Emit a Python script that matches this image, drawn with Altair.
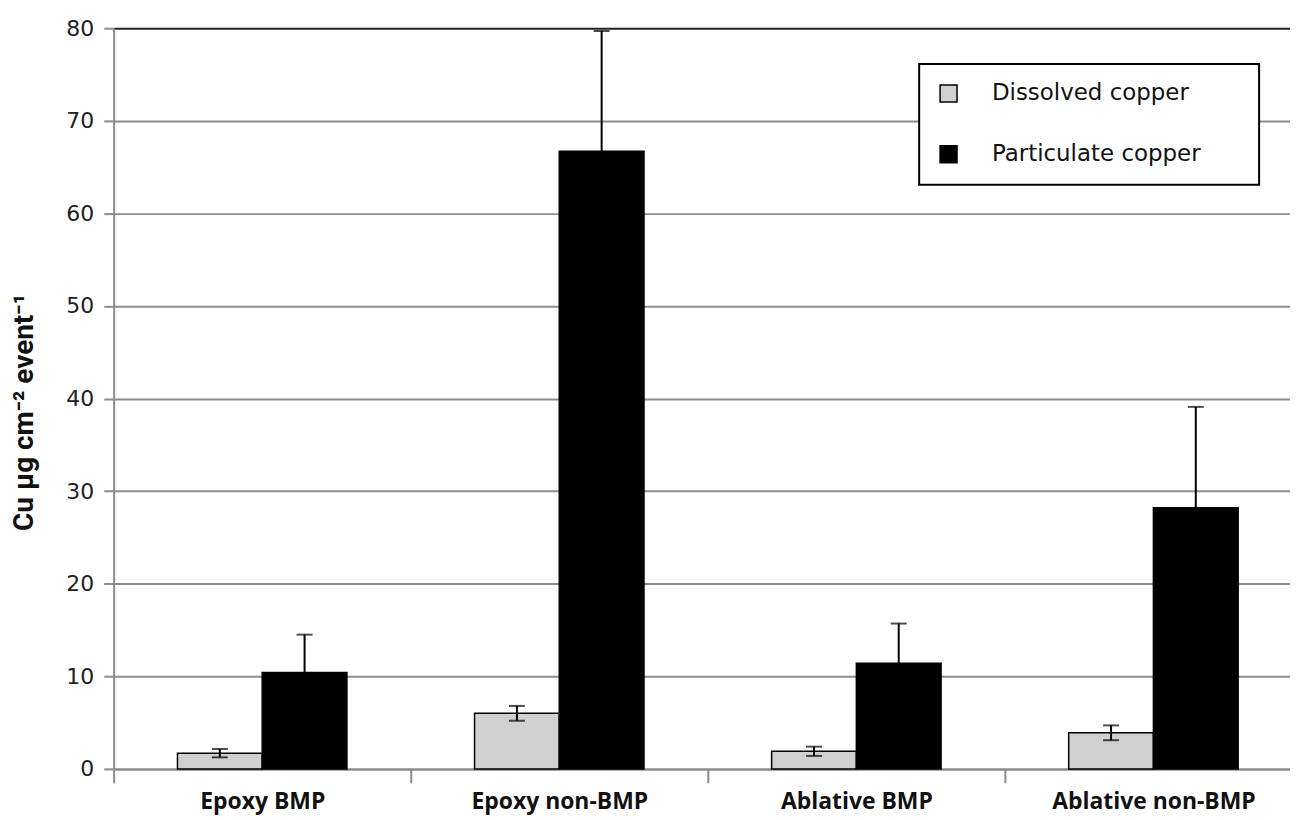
import altair as alt
import pandas as pd

categories = ["Epoxy BMP", "Epoxy non-BMP", "Ablative BMP", "Ablative non-BMP"]
series = ["Dissolved copper", "Particulate copper"]
dissolved = [1.7, 6.0, 1.9, 3.9]
dissolved_err = [0.45, 0.8, 0.5, 0.8]
particulate = [10.4, 66.7, 11.4, 28.2]
particulate_err = [4.1, 13.0, 4.3, 10.9]

rows = []
for i, c in enumerate(categories):
    rows.append({"cat": c, "series": series[0], "value": dissolved[i],
                 "lo": dissolved[i] - dissolved_err[i], "hi": dissolved[i] + dissolved_err[i]})
    rows.append({"cat": c, "series": series[1], "value": particulate[i],
                 "lo": particulate[i] - particulate_err[i], "hi": particulate[i] + particulate_err[i]})
df = pd.DataFrame(rows)

xenc = alt.X("cat:N", sort=categories, title=None,
             scale=alt.Scale(paddingInner=0, paddingOuter=0, range=[0, 1192]),
             axis=alt.Axis(tickBand="extent", labelAngle=0, domainColor="#8c8c8c", domainWidth=2,
                           tickColor="#8c8c8c", tickWidth=2, tickSize=14, labelPadding=8,
                           labelFont="Open Sans", labelFontWeight="bold", labelFontSize=23,
                           labelColor="#111111", labelLimit=0, grid=False))
xoff = alt.XOffset("series:N", sort=series,
                   scale=alt.Scale(domain=series, paddingInner=0, paddingOuter=0.753))

base = alt.Chart(df)

bars = base.mark_bar(stroke="black", strokeWidth=1.5).encode(
    x=xenc,
    xOffset=xoff,
    y=alt.Y("value:Q", scale=alt.Scale(domain=[0, 80], nice=False),
            title="Cu µg cm⁻² event⁻¹",
            axis=alt.Axis(values=list(range(0, 81, 10)),
                          gridColor=alt.condition("datum.value == 80", alt.value("#222222"), alt.value("#8c8c8c")),
                          gridWidth=2,
                          domainColor="#8c8c8c", domainWidth=2, tickColor="#8c8c8c",
                          tickWidth=2, tickSize=10, labelPadding=10,
                          labelFont="DejaVu Sans", labelFontSize=22, labelColor="#222222",
                          titleFont="Roboto", titleFontWeight="bold",
                          titleFontSize=28, titleColor="#111111",
                          titleX=-89, titleY=385, titleBaseline="middle", titleAngle=270)),
    color=alt.Color("series:N", sort=series,
                    scale=alt.Scale(domain=series, range=["#d0d0d0", "#000000"]),
                    legend=alt.Legend(title="MMMM", titleOrient="right", titleOpacity=0,
                                      titleFontSize=12, titlePadding=0,
                                      orient="none", legendX=808, legendY=36,
                                      symbolType="square", symbolSize=289,
                                      symbolStrokeColor="black", symbolStrokeWidth=1.5,
                                      labelFont="DejaVu Sans", labelFontSize=23, labelColor="#111111",
                                      labelOffset=32, rowPadding=37, padding=18, labelLimit=500,
                                      strokeColor="black", fillColor="white")),
)

rules = base.mark_rule(color="black", strokeWidth=2).encode(
    x=alt.X("cat:N", sort=categories), xOffset=xoff,
    y=alt.Y("lo:Q"), y2="hi:Q")

cap_hi = base.mark_tick(color="black", size=16, thickness=2).encode(
    x=alt.X("cat:N", sort=categories), xOffset=xoff, y=alt.Y("hi:Q"))
cap_lo = base.mark_tick(color="black", size=16, thickness=2).encode(
    x=alt.X("cat:N", sort=categories), xOffset=xoff, y=alt.Y("lo:Q"))

chart = alt.layer(bars, rules, cap_hi, cap_lo).properties(
    width=1180, height=743,
    autosize=alt.AutoSizeParams(type="none"),
    padding={"left": 106, "top": 19, "right": 0, "bottom": 50},
).configure_view(stroke=None).configure(background="white").configure_legend(strokeWidth=2)

chart.save("out.html", embed_options={"renderer": "svg", "actions": False})
